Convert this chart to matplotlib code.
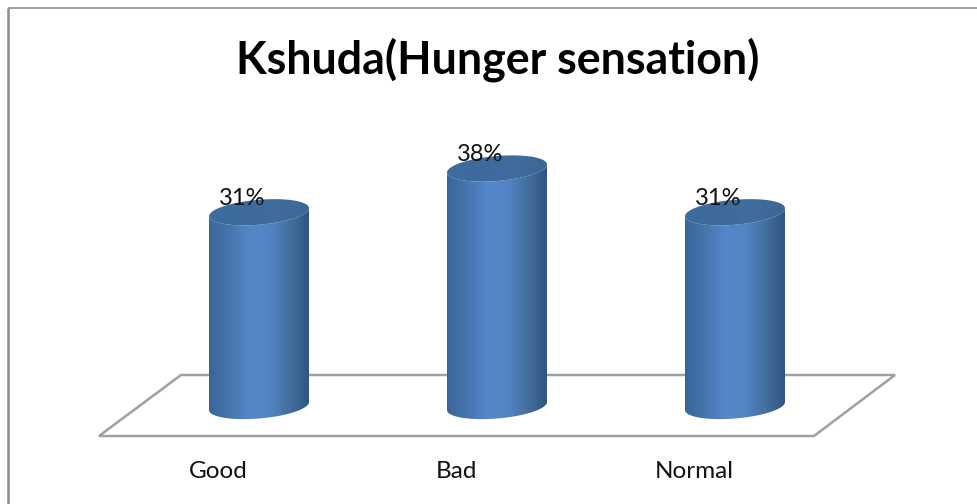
import numpy as np
import matplotlib

matplotlib.use("Agg")
import matplotlib.pyplot as plt
from matplotlib.colors import LinearSegmentedColormap
from matplotlib.patches import Polygon
from matplotlib.transforms import Affine2D

categories = ["Good", "Bad", "Normal"]
percent_values = [31, 38, 31]

W, H = 977, 504
FIRST_X = 259       # px centre of the first cylinder
STEP_X = 238        # px between cylinders
BASE_Y = 406        # px (from top) of the 0% level
PX_PER_PCT = 6.25
HALF_W = 50
HALF_H = 12.5
TILT = 0.08

FRAME = "#8c8c8c"
FLOOR = "#a0a0a0"
FONT = ["Lato", "Open Sans", "DejaVu Sans"]

body_cmap = LinearSegmentedColormap.from_list(
    "body", ["#39659a", "#4674ad", "#5588c9", "#5385c5", "#44709f", "#2f5580"]
)
top_cmap = LinearSegmentedColormap.from_list(
    "top", ["#3f6d9f", "#3d6a9b", "#406d9e", "#3c6794"]
)

fig = plt.figure(figsize=(W / 100, H / 100), dpi=100, facecolor="white")
ax = fig.add_axes([0, 0, 1, 1])
ax.set_axis_off()

# pixel coords from the top-left corner, for frame and floor
px = Affine2D().scale(1, -1).translate(0, H)


def dx(p):
    return p / STEP_X


def dy(p):
    return p / PX_PER_PCT


def rim(cx, level, t):
    """Points of a tilted ellipse around the category position and value."""
    xs = cx + dx(HALF_W * np.cos(t))
    ys = level + dy(HALF_H * np.sin(t) + TILT * HALF_W * np.cos(t))
    return np.column_stack([xs, ys])


def gradient(cx, y0, y1, cmap, clip, zorder):
    grad = np.linspace(0, 1, 256).reshape(1, -1)
    im = ax.imshow(
        grad, cmap=cmap, aspect="auto", zorder=zorder, interpolation="bilinear",
        extent=(cx - dx(HALF_W), cx + dx(HALF_W), y0, y1),
    )
    im.set_clip_path(clip)


# frame: top and left only, the picture is cropped on the other sides
ax.plot([8, W], [8, 8], color=FRAME, lw=1.2, transform=px, solid_capstyle="butt")
ax.plot([8, 8], [8, H], color=FRAME, lw=1.8, transform=px, solid_capstyle="butt")

# floor
ax.add_patch(Polygon(
    [(99, 436), (814, 436), (895, 375), (181, 375)], closed=True,
    facecolor="white", edgecolor=FLOOR, lw=1.8, transform=px, zorder=1,
))

lower = np.linspace(np.pi, 2 * np.pi, 80)
full = np.linspace(0, 2 * np.pi, 160)

for i, (name, value) in enumerate(zip(categories, percent_values)):
    # cylinder wall: bottom half of the base rim, then back over the top rim
    wall = np.vstack([rim(i, 0, lower), rim(i, value, lower[::-1])])
    clip = Polygon(wall, closed=True, transform=ax.transData)
    gradient(i, dy(-HALF_H - 8), value + dy(HALF_H + 8), body_cmap, clip, 2)

    cap = Polygon(rim(i, value, full), closed=True, transform=ax.transData)
    gradient(i, value - dy(HALF_H + 8), value + dy(HALF_H + 8), top_cmap, cap, 3)

    ax.text(i - dx(16.5), value + dy(14), f"{value}%", ha="center", va="center",
            fontsize=17, color="#111111", family=FONT, zorder=4)
    ax.text(i - dx(41), dy(BASE_Y - 471), name, ha="center", va="center",
            fontsize=17.5, color="#111111", family=FONT, zorder=4)

ax.text(498, 60, "Kshuda(Hunger sensation)", ha="center", va="center",
        fontsize=32.2, fontweight="bold", color="black", family=FONT, transform=px)

# imshow resets the limits
ax.set_xlim(-FIRST_X / STEP_X, (W - FIRST_X) / STEP_X)
ax.set_ylim((BASE_Y - H) / PX_PER_PCT, BASE_Y / PX_PER_PCT)

fig.savefig("out.png", dpi=100, facecolor="white")
